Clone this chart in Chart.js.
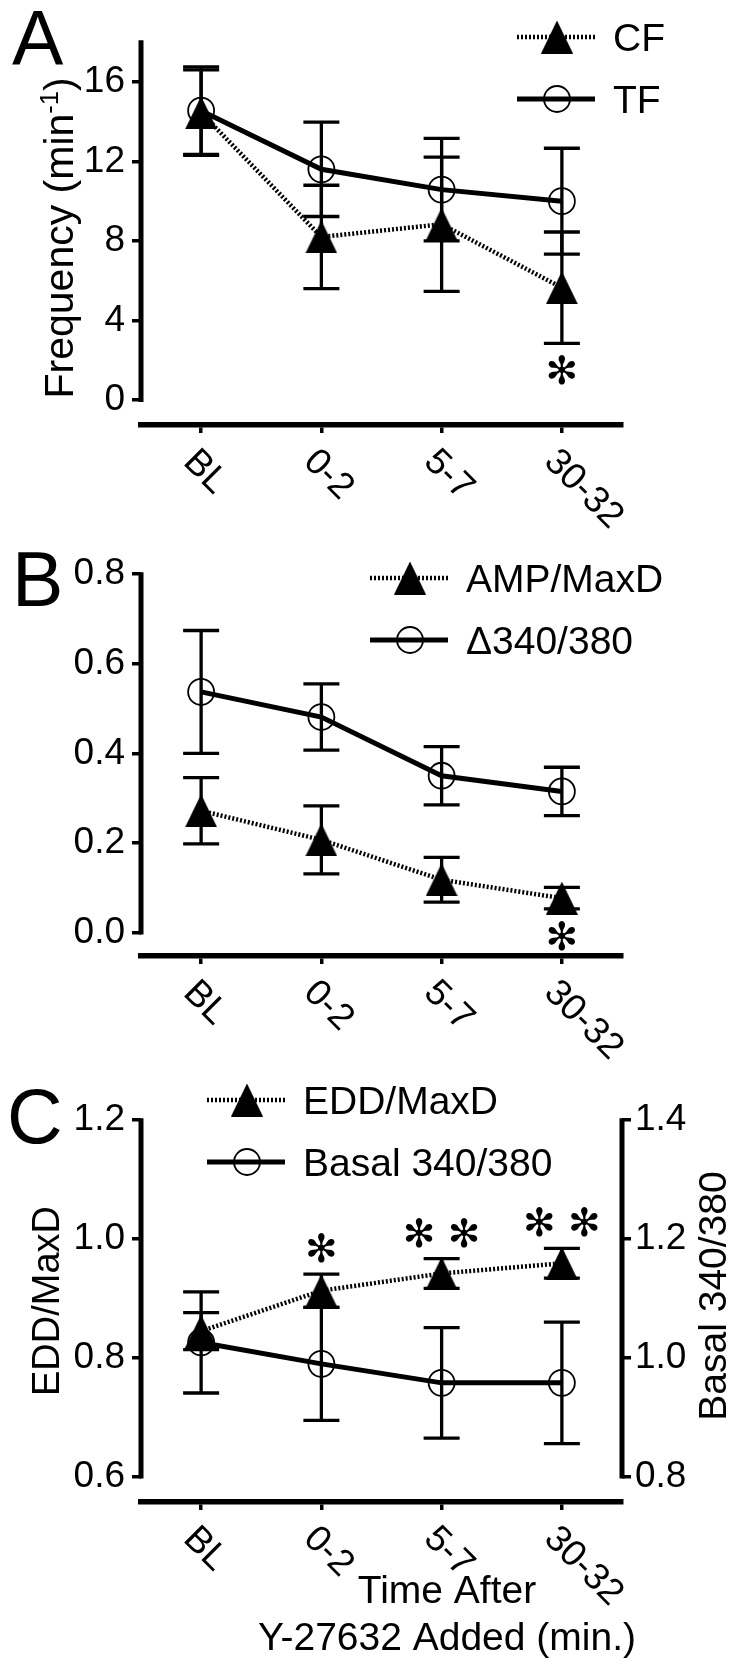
<!DOCTYPE html>
<html>
<head>
<meta charset="utf-8">
<script src="https://cdn.jsdelivr.net/npm/chart.js@4.4.1/dist/chart.umd.min.js"></script>
<style>
  html, body { margin: 0; padding: 0; background: #fff; }
  body { width: 736px; height: 1665px; position: relative; overflow: hidden; }
  canvas { position: absolute; left: 0; }
</style>
</head>
<body>
<canvas id="panelA" width="736" height="540" style="top:0px;width:736px;height:540px"></canvas>
<canvas id="panelB" width="736" height="520" style="top:540px;width:736px;height:520px"></canvas>
<canvas id="panelC" width="736" height="605" style="top:1060px;width:736px;height:605px"></canvas>
<script>
// time points, shared by all three panels
const timeLabels = ['BL', '0-2', '5-7', '30-32'];

// panel A - frequency (min-1)
const cfFreq = [14.45, 8.2, 8.84, 5.65];
const cfFreqErr = [2.15, 2.6, 3.37, 2.8];
const tfFreq = [14.55, 11.6, 10.58, 10.0];
const tfFreqErr = [2.2, 2.37, 2.58, 2.66];
const freqTicks = [0, 4, 8, 12, 16];
const freqStars = ['', '', '', '*'];

// panel B - AMP/MaxD and delta 340/380
const ampMaxD = [0.272, 0.207, 0.118, 0.077];
const ampMaxDErr = [0.074, 0.076, 0.05, 0.024];
const delta340 = [0.537, 0.481, 0.35, 0.315];
const delta340Err = [0.137, 0.074, 0.065, 0.054];
const ampTicks = [0, 0.2, 0.4, 0.6, 0.8];
const ampStars = ['', '', '', '*'];

// panel C - EDD/MaxD (left) and basal 340/380 (right)
const eddMaxD = [0.845, 0.913, 0.942, 0.959];
const eddMaxDErr = [0.031, 0.028, 0.025, 0.025];
const basal340 = [1.026, 0.99, 0.958, 0.958];
const basal340Err = [0.085, 0.095, 0.093, 0.102];
const eddTicks = [0.6, 0.8, 1.0, 1.2];
const basalTicks = [0.8, 1.0, 1.2, 1.4];
const eddStars = ['', '*', '**', '**'];

const FONT = "'Liberation Sans', Arial, Helvetica, sans-serif";
const STAR_FONT = "'DejaVu Sans', sans-serif";
const STAR_GLYPH = '\u273B'; // teardrop asterisk, closer to the printed one

// filled triangle marker
function makeTriangle(w, h) {
  const c = document.createElement('canvas');
  c.width = w; c.height = h;
  const g = c.getContext('2d');
  g.fillStyle = '#000';
  g.beginPath();
  g.moveTo(w / 2, 0);
  g.lineTo(w, h);
  g.lineTo(0, h);
  g.closePath();
  g.fill();
  return c;
}
const triangle = makeTriangle(32, 33);

function triSet(label, data, err, axis) {
  return {
    label, data, err, yAxisID: axis || 'y',
    borderColor: '#000', borderWidth: 4.5, borderDash: [2, 2],
    pointStyle: triangle, pointRadius: 15, tension: 0, fill: false
  };
}
function circSet(label, data, err, axis) {
  return {
    label, data, err, yAxisID: axis || 'y',
    borderColor: '#000', borderWidth: 5,
    pointStyle: 'circle', pointRadius: 13, pointBorderWidth: 1.8,
    pointBorderColor: '#000', pointBackgroundColor: 'rgba(0,0,0,0)',
    tension: 0, fill: false
  };
}

function yScale(min, max, tickVals, digits, position) {
  return {
    type: 'linear', position, min, max,
    afterBuildTicks: s => { s.ticks = tickVals.map(v => ({ value: v })); },
    afterFit: s => { s.width = position === 'left' ? 141 : 114; },
    border: { display: false },
    grid: { drawOnChartArea: false, drawTicks: true, tickLength: 9, lineWidth: 3.5, color: '#000' },
    ticks: {
      color: '#000', padding: position === 'left' ? 7 : 4, autoSkip: false,
      font: { family: FONT, size: 37 },
      callback: v => Number(v).toFixed(digits)
    }
  };
}
function xScale(h) {
  return {
    type: 'category', offset: true,
    afterFit: s => { s.height = h; },
    border: { display: true, width: 5.5, color: '#000' },
    grid: { drawOnChartArea: false, drawTicks: true, tickLength: 8, lineWidth: 3.5, color: '#000' },
    ticks: { display: false }
  };
}

// vertical error bars (mean +/- err) drawn under the markers
const errorBars = {
  id: 'errorBars',
  beforeDatasetsDraw(chart) {
    const ctx = chart.ctx;
    const xs = chart.scales.x;
    ctx.save();
    ctx.strokeStyle = '#000';
    ctx.lineWidth = 3.3;
    ctx.setLineDash([]);
    chart.data.datasets.forEach(ds => {
      const ys = chart.scales[ds.yAxisID];
      ds.data.forEach((v, i) => {
        const px = xs.getPixelForValue(i);
        const top = ys.getPixelForValue(v + ds.err[i]);
        const bot = ys.getPixelForValue(v - ds.err[i]);
        ctx.beginPath();
        ctx.moveTo(px, top); ctx.lineTo(px, bot);
        ctx.moveTo(px - 18, top); ctx.lineTo(px + 18, top);
        ctx.moveTo(px - 18, bot); ctx.lineTo(px + 18, bot);
        ctx.stroke();
      });
    });
    ctx.restore();
  }
};

function starSize(ctx) {
  ctx.font = `100px ${STAR_FONT}`;
  const m = ctx.measureText(STAR_GLYPH);
  return 100 * 30 / (m.actualBoundingBoxAscent + m.actualBoundingBoxDescent);
}
function drawStar(ctx, cx, cy, size) {
  ctx.font = `${size}px ${STAR_FONT}`;
  ctx.textAlign = 'left';
  ctx.textBaseline = 'alphabetic';
  const m = ctx.measureText(STAR_GLYPH);
  const x0 = cx - (m.actualBoundingBoxRight - m.actualBoundingBoxLeft) / 2;
  const y0 = cy - (m.actualBoundingBoxDescent - m.actualBoundingBoxAscent) / 2;
  ctx.fillText(STAR_GLYPH, x0, y0);
}

function rotatedText(ctx, parts, bx, cy, size) {
  // parts: [text, isSuperscript]
  ctx.save();
  ctx.translate(bx, cy);
  ctx.rotate(-Math.PI / 2);
  ctx.textAlign = 'left';
  ctx.textBaseline = 'alphabetic';
  const widths = parts.map(([t, sup]) => {
    ctx.font = `${sup ? size * 0.62 : size}px ${FONT}`;
    return ctx.measureText(t).width;
  });
  let x = -widths.reduce((a, b) => a + b, 0) / 2;
  parts.forEach(([t, sup], i) => {
    ctx.font = `${sup ? size * 0.62 : size}px ${FONT}`;
    ctx.fillText(t, x, sup ? -size * 0.36 : 0);
    x += widths[i];
  });
  ctx.restore();
}

// axis lines, rotated category labels, legend, asterisks, titles
const deco = {
  id: 'deco',
  afterDraw(chart, args, o) {
    const ctx = chart.ctx;
    const area = chart.chartArea;
    const xs = chart.scales.x;
    ctx.save();
    ctx.fillStyle = '#000';
    ctx.strokeStyle = '#000';

    o.axes.forEach(id => {
      const s = chart.scales[id];
      const ax = s.position === 'left' ? area.left : area.right;
      ctx.lineWidth = 5;
      ctx.setLineDash([]);
      ctx.beginPath();
      ctx.moveTo(ax, s.getPixelForValue(s.max) - 1.75);
      ctx.lineTo(ax, s.getPixelForValue(s.ticks[0].value) + 1.75);
      ctx.stroke();
    });

    ctx.font = `37px ${FONT}`;
    ctx.textAlign = 'left';
    ctx.textBaseline = 'middle';
    chart.data.labels.forEach((lab, i) => {
      const px = xs.getPixelForValue(i);
      ctx.save();
      ctx.translate(px - 12, area.bottom + 31);
      ctx.rotate(Math.PI / 4);
      ctx.fillText(lab, 0, 0);
      ctx.restore();
    });

    // significance marks on the first series
    const ds0 = chart.data.datasets[0];
    const ys0 = chart.scales[ds0.yAxisID];
    const sz = starSize(ctx);
    o.stars.forEach((s, i) => {
      if (!s) return;
      const px = xs.getPixelForValue(i);
      const cy = o.starsAbove
        ? ys0.getPixelForValue(ds0.data[i] + ds0.err[i]) - 26
        : ys0.getPixelForValue(ds0.data[i] - ds0.err[i]) + 27;
      for (let k = 0; k < s.length; k++) {
        drawStar(ctx, px + (k - (s.length - 1) / 2) * 45, cy, sz);
      }
    });

    // legend
    const lg = o.legend;
    chart.data.datasets.forEach((ds, i) => {
      const y = lg.y + i * 62;
      ctx.lineWidth = ds.borderWidth;
      ctx.setLineDash(ds.borderDash || []);
      ctx.beginPath();
      ctx.moveTo(lg.x, y);
      ctx.lineTo(lg.x + 78, y);
      ctx.stroke();
      ctx.setLineDash([]);
      const mx = lg.x + 40;
      if (ds.pointStyle === 'circle') {
        ctx.lineWidth = 1.8;
        ctx.beginPath();
        ctx.arc(mx, y, 13, 0, Math.PI * 2);
        ctx.stroke();
      } else {
        ctx.drawImage(ds.pointStyle, mx - ds.pointStyle.width / 2, y - ds.pointStyle.height / 2);
      }
      ctx.font = `39px ${FONT}`;
      ctx.textAlign = 'left';
      ctx.textBaseline = 'alphabetic';
      ctx.fillText(ds.label, lg.x + 96, y + 39 * 0.358);
    });

    // panel letter
    ctx.font = `77px ${FONT}`;
    ctx.textAlign = 'left';
    ctx.textBaseline = 'alphabetic';
    ctx.fillText(o.letter[0], o.letter[1], o.letter[2]);

    (o.yTitles || []).forEach(t => rotatedText(ctx, t.parts, t.x, t.y, t.size));

    (o.xTitle || []).forEach(t => {
      ctx.font = `39px ${FONT}`;
      ctx.textAlign = 'center';
      ctx.textBaseline = 'alphabetic';
      ctx.fillText(t[0], t[1], t[2]);
    });
    ctx.restore();
  }
};

const common = { responsive: false, animation: false, devicePixelRatio: 1, events: [] };

new Chart(document.getElementById('panelA'), {
  type: 'line',
  data: {
    labels: timeLabels,
    datasets: [triSet('CF', cfFreq, cfFreqErr), circSet('TF', tfFreq, tfFreqErr)]
  },
  options: {
    ...common,
    layout: { padding: { top: 42, right: 114, left: 0, bottom: 0 } },
    scales: { x: xScale(115), y: yScale(-1.25, 18, freqTicks, 0, 'left') },
    plugins: {
      legend: { display: false }, tooltip: { enabled: false },
      deco: {
        axes: ['y'], stars: freqStars, starsAbove: false,
        legend: { x: 517, y: 37 },
        letter: ['A', 12, 65],
        yTitles: [{ parts: [['Frequency (min', false], ['-1', true], [')', false]], x: 73, y: 238, size: 41 }]
      }
    }
  },
  plugins: [errorBars, deco]
});

new Chart(document.getElementById('panelB'), {
  type: 'line',
  data: {
    labels: timeLabels,
    datasets: [triSet('AMP/MaxD', ampMaxD, ampMaxDErr), circSet('\u0394340/380', delta340, delta340Err)]
  },
  options: {
    ...common,
    layout: { padding: { top: 34, right: 114, left: 0, bottom: 0 } },
    scales: { x: xScale(104), y: yScale(-0.052, 0.8, ampTicks, 1, 'left') },
    plugins: {
      legend: { display: false }, tooltip: { enabled: false },
      deco: {
        axes: ['y'], stars: ampStars, starsAbove: false,
        legend: { x: 370, y: 38 },
        letter: ['B', 12, 66]
      }
    }
  },
  plugins: [errorBars, deco]
});

new Chart(document.getElementById('panelC'), {
  type: 'line',
  data: {
    labels: timeLabels,
    datasets: [triSet('EDD/MaxD', eddMaxD, eddMaxDErr, 'y'), circSet('Basal 340/380', basal340, basal340Err, 'y2')]
  },
  options: {
    ...common,
    layout: { padding: { top: 60, right: 0, left: 0, bottom: 0 } },
    scales: {
      x: xScale(163),
      y: yScale(0.5577, 1.2, eddTicks, 1, 'left'),
      y2: yScale(0.7577, 1.4, basalTicks, 1, 'right')
    },
    plugins: {
      legend: { display: false }, tooltip: { enabled: false },
      deco: {
        axes: ['y', 'y2'], stars: eddStars, starsAbove: true,
        legend: { x: 207, y: 40 },
        letter: ['C', 7, 83],
        yTitles: [
          { parts: [['EDD/MaxD', false]], x: 59, y: 241, size: 38 },
          { parts: [['Basal 340/380', false]], x: 726, y: 236, size: 39 }
        ],
        xTitle: [['Time After', 447, 543], ['Y-27632 Added (min.)', 447, 590]]
      }
    }
  },
  plugins: [errorBars, deco]
});
</script>
</body>
</html>
